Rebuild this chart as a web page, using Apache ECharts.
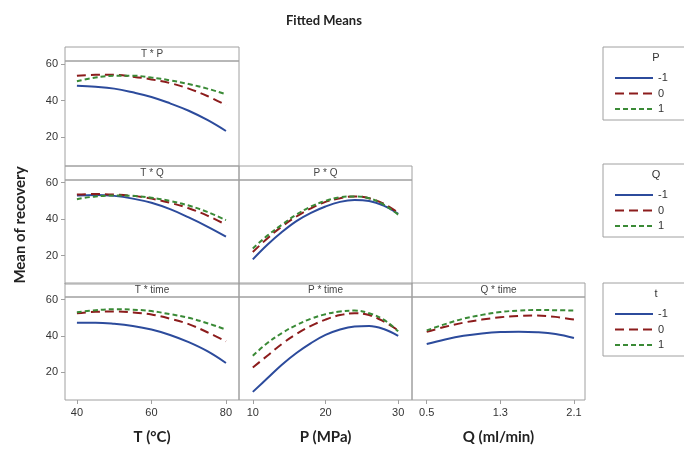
<!DOCTYPE html>
<html>
<head>
<meta charset="utf-8">
<script src="https://cdn.jsdelivr.net/npm/echarts@6/dist/echarts.min.js"></script>
<style>
  html, body { margin: 0; padding: 0; background: #fff; }
  #chart { width: 684px; height: 457px; }
</style>
</head>
<body>
<div id="chart"></div>
<script>
// x values for each factor
const T_VALS = [40, 45, 50, 55, 60, 65, 70, 75, 80]
const P_VALS = [10, 12, 14, 16, 18, 20, 22, 24, 26, 28, 30]
const Q_VALS = [0.5, 0.7, 0.9, 1.1, 1.3, 1.5, 1.7, 1.9, 2.1]

// T * P  (levels of P)
const tp_m1 = [48, 47.5, 46.5, 44.5, 42, 38.5, 34.5, 29.5, 23.5]
const tp_0 = [53.5, 54, 54, 53, 51.5, 49.5, 46.5, 42.5, 37.5]
const tp_p1 = [50.5, 52.5, 53.5, 53.5, 52.5, 51, 49, 46.5, 43.5]

// T * Q  (levels of Q)
const tq_m1 = [53, 53.3, 52.8, 51.3, 49, 45.5, 41, 36, 30.5]
const tq_0 = [53.5, 53.8, 53.5, 52.8, 51.3, 49, 46, 42, 37]
const tq_p1 = [51, 52.5, 53, 52.8, 51.8, 50, 47.5, 44, 39.5]

// P * Q  (levels of Q)
const pq_m1 = [18, 26, 33, 39, 43.5, 47, 49.5, 50.5, 50, 47.5, 43]
const pq_0 = [22, 29.5, 36, 41.5, 46, 49.5, 51.5, 52.5, 51.5, 48.5, 43.5]
const pq_p1 = [24, 31, 37, 42.5, 47, 50, 52, 52.5, 51.5, 48, 42.5]

// T * time  (levels of t)
const tt_m1 = [47.3, 47.3, 46.7, 45.5, 43.5, 40.5, 36.5, 31.5, 25]
const tt_0 = [52.5, 53.3, 53.5, 53, 51.8, 49.5, 46.5, 42, 37]
const tt_p1 = [53, 54.2, 54.7, 54.5, 53.7, 52, 50, 47, 43.5]

// P * time
const pt_m1 = [9, 16.5, 24, 30.5, 36, 40.5, 43.5, 45.2, 45.5, 43.8, 40]
const pt_0 = [22.5, 29, 35.5, 41, 45.5, 49, 51.5, 52.5, 51.5, 48, 43]
const pt_p1 = [29, 36, 41.5, 46, 49.5, 52, 53.5, 54, 52.5, 49, 42.5]

// Q * time
const qt_m1 = [35.5, 38, 40, 41.3, 42.1, 42.3, 42, 41, 38.8]
const qt_0 = [42.2, 45, 47.3, 49, 50.3, 51, 51.2, 50.5, 49]
const qt_p1 = [43, 46.5, 49.5, 51.6, 53.2, 54, 54.3, 54.2, 54]

const Y_TICKS = [20, 40, 60]
const T_TICKS = [40, 60, 80]
const P_TICKS = [10, 20, 30]
const Q_TICKS = [0.5, 1.3, 2.1]

const BLUE = '#2c4b9c'
const RED = '#8c1c1c'
const GREEN = '#3a8a36'
const BORDER = '#a0a0a0'

const cols = [[65, 174], [239, 173], [412, 173]]
const rows = [[61, 105], [180, 104], [297, 103]]

// panel: [row, col, strip label, xs, range, ticks, legend key, data arrays, bottom?, x name]
const panels = [
  [0, 0, 'T * P', T_VALS, [36.8, 83.5], T_TICKS, 'P', [tp_m1, tp_0, tp_p1], false],
  [1, 0, 'T * Q', T_VALS, [36.8, 83.5], T_TICKS, 'Q', [tq_m1, tq_0, tq_p1], false],
  [1, 1, 'P * Q', P_VALS, [8.1, 31.9], P_TICKS, 'Q', [pq_m1, pq_0, pq_p1], false],
  [2, 0, 'T * time', T_VALS, [36.8, 83.5], T_TICKS, 't', [tt_m1, tt_0, tt_p1], true, 'T (°C)'],
  [2, 1, 'P * time', P_VALS, [8.1, 31.9], P_TICKS, 't', [pt_m1, pt_0, pt_p1], true, 'P (MPa)'],
  [2, 2, 'Q * time', Q_VALS, [0.34, 2.22], Q_TICKS, 't', [qt_m1, qt_0, qt_p1], true, 'Q (ml/min)']
]

const levels = ['-1', '0', '1']
const lineStyles = [
  { color: BLUE, width: 2, type: 'solid' },
  { color: RED, width: 2, type: [9, 5] },
  { color: GREEN, width: 2, type: [5, 3] }
]

const grid = [], xAxis = [], yAxis = [], series = [], graphic = []

panels.forEach((p, i) => {
  const [r, c, label, xs, range, ticks, key, arrays, bottom, xname] = p
  const [left, width] = cols[c]
  const [top, height] = rows[r]
  grid.push({ left, top, width, height, show: true, borderColor: BORDER, borderWidth: 1, containLabel: false })
  xAxis.push({
    type: 'value', gridIndex: i, min: range[0], max: range[1],
    axisLine: { show: false },
    splitLine: { show: false },
    axisTick: { show: bottom, customValues: ticks, length: 4, lineStyle: { color: BORDER } },
    axisLabel: {
      show: bottom, customValues: ticks, margin: 7,
      color: '#333', fontSize: 11, fontFamily: 'Liberation Sans',
      formatter: v => (c === 2) ? v.toFixed(1) : String(v)
    },
    name: xname || '', nameLocation: 'middle', nameGap: 30,
    nameTextStyle: { fontFamily: 'Lato', fontWeight: 'bold', fontSize: 15, color: '#222' }
  })
  yAxis.push({
    type: 'value', gridIndex: i, min: 4.5, max: 61.5,
    axisLine: { show: false },
    splitLine: { show: false },
    axisTick: { show: c === 0, customValues: Y_TICKS, length: 4, lineStyle: { color: BORDER } },
    axisLabel: {
      show: c === 0, customValues: Y_TICKS, margin: 7,
      color: '#333', fontSize: 11, fontFamily: 'Liberation Sans'
    }
  })
  arrays.forEach((arr, k) => {
    series.push({
      type: 'line', name: key + ' ' + levels[k],
      xAxisIndex: i, yAxisIndex: i,
      data: xs.map((x, j) => [x, arr[j]]),
      smooth: 0.4, symbol: 'none', silent: true,
      lineStyle: lineStyles[k], itemStyle: { color: lineStyles[k].color }
    })
  })
  // strip header above each panel
  graphic.push({
    type: 'rect', shape: { x: left, y: top - 14, width, height: 14 },
    style: { fill: 'none', stroke: BORDER, lineWidth: 1 }, silent: true
  })
  graphic.push({
    type: 'text', x: left + width / 2, y: top - 7,
    style: { text: label, fill: '#444', font: '10px "Liberation Sans"', align: 'center', verticalAlign: 'middle' },
    silent: true
  })
})

// legend boxes
const legendBoxes = [['P', 47], ['Q', 164], ['t', 283]]
const legend = legendBoxes.map(([key, top]) => {
  graphic.push({
    type: 'rect', shape: { x: 603, y: top, width: 95, height: 73 },
    style: { fill: 'none', stroke: BORDER, lineWidth: 1 }, silent: true
  })
  graphic.push({
    type: 'text', x: 656, y: top + 11,
    style: { text: key, fill: '#333', font: '11px "Liberation Sans"', align: 'center', verticalAlign: 'middle' },
    silent: true
  })
  return {
    data: levels.map(l => key + ' ' + l),
    orient: 'vertical', left: 609, top: top + 20,
    itemWidth: 38, itemHeight: 8, itemGap: 3.5, selectedMode: false,
    itemStyle: { opacity: 0 },
    formatter: name => name.split(' ')[1],
    textStyle: { color: '#333', fontSize: 11, fontFamily: 'Liberation Sans', lineHeight: 12 }
  }
})

graphic.push({
  type: 'text', x: 20, y: 225, rotation: Math.PI / 2,
  style: { text: 'Mean of recovery', fill: '#222', font: 'bold 15px Lato', align: 'center', verticalAlign: 'middle' },
  silent: true
})

const myChart = echarts.init(document.getElementById('chart'), null, { renderer: 'canvas' })
myChart.setOption({
  backgroundColor: '#fff',
  animation: false,
  title: {
    text: 'Fitted Means', left: 281, top: 9,
    textStyle: { fontFamily: 'Lato', fontWeight: 'bold', fontSize: 13, color: '#222' }
  },
  legend,
  grid,
  xAxis,
  yAxis,
  series,
  graphic
})
</script>
</body>
</html>
